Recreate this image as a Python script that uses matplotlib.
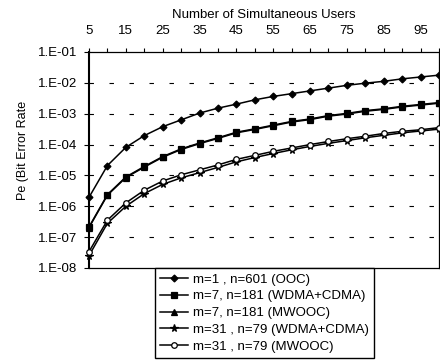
import numpy as np
import matplotlib
matplotlib.use('Agg')
import matplotlib.pyplot as plt
import matplotlib.ticker as ticker

plt.rcParams['font.family'] = ['Liberation Sans', 'DejaVu Sans']

# ── data (log10 of Pe) ─────────────────────────────────────────
users = [5, 10, 15, 20, 25, 30, 35, 40, 45, 50,
         55, 60, 65, 70, 75, 80, 85, 90, 95, 100]
log_ooc_m1 = [-5.71, -4.68, -4.09, -3.71, -3.42, -3.20, -2.98, -2.82, -2.69, -2.55,
              -2.44, -2.35, -2.26, -2.17, -2.08, -2.01, -1.95, -1.87, -1.81, -1.75]
log_wdma_m7 = [-6.67, -5.62, -5.05, -4.71, -4.39, -4.14, -3.95, -3.78, -3.60, -3.49,
               -3.37, -3.25, -3.17, -3.06, -2.99, -2.90, -2.84, -2.76, -2.70, -2.64]
log_mwooc_m7 = [-6.69, -5.64, -5.07, -4.73, -4.41, -4.16, -3.97, -3.80, -3.62, -3.51,
                -3.39, -3.27, -3.19, -3.08, -3.01, -2.92, -2.86, -2.78, -2.72, -2.66]
log_wdma_m31 = [-7.60, -6.55, -6.00, -5.59, -5.29, -5.08, -4.91, -4.74, -4.56, -4.42,
                -4.29, -4.17, -4.06, -3.96, -3.87, -3.78, -3.70, -3.62, -3.56, -3.50]
log_mwooc_m31 = [-7.47, -6.45, -5.89, -5.48, -5.18, -4.98, -4.82, -4.66, -4.48, -4.35,
                 -4.22, -4.11, -4.00, -3.90, -3.81, -3.73, -3.64, -3.57, -3.52, -3.45]

labels = ['m=1 , n=601 (OOC)',
          'm=7, n=181 (WDMA+CDMA)',
          'm=7, n=181 (MWOOC)',
          'm=31 , n=79 (WDMA+CDMA)',
          'm=31 , n=79 (MWOOC)']

x_major = [5, 15, 25, 35, 45, 55, 65, 75, 85, 95]
y_ticks = [1e-1, 1e-2, 1e-3, 1e-4, 1e-5, 1e-6, 1e-7, 1e-8]

# ── figure ─────────────────────────────────────────────────────
fig = plt.figure(figsize=(4.4, 3.62), dpi=100, facecolor='white')
ax = fig.add_axes([89 / 440, 1 - 268 / 362, 350 / 440, 216 / 362])

series = [
    (log_ooc_m1,   dict(marker='D', ms=3.5, mfc='black')),
    (log_wdma_m7,  dict(marker='s', ms=4.5, mfc='black')),
    (log_mwooc_m7, dict(marker='^', ms=4.5, mfc='black')),
    (log_wdma_m31, dict(marker='*', ms=5.5, mfc='black')),
    (log_mwooc_m31, dict(marker='o', ms=4.0, mfc='white')),
]
for (vals, st), lab in zip(series, labels):
    ax.plot(users, 10.0 ** np.array(vals), color='black', lw=1.1,
            mec='black', mew=0.9, label=lab, clip_on=False, zorder=3, **st)

ax.set_yscale('log')
ax.set_ylim(1e-8, 1e-1)
ax.set_xlim(5, 100)

# horizontal dashed grid at decades
for v in y_ticks[1:-1]:
    ax.axhline(v, color='black', lw=0.8, dashes=(4, 14), zorder=1)

# x axis on top
ax.xaxis.tick_top()
ax.xaxis.set_label_position('top')
ax.set_xticks(x_major)
ax.set_xticks(np.arange(10, 101, 10), minor=True)
ax.tick_params(axis='x', which='both', direction='out', length=3,
               width=0.8, pad=8, labelsize=9.5)
ax.set_xlabel('Number of Simultaneous Users', fontsize=9.5, labelpad=5)

ax.yaxis.set_minor_locator(ticker.NullLocator())
ax.set_yticks(y_ticks)
ax.yaxis.set_major_formatter(ticker.FuncFormatter(
    lambda v, _: f'1.E-{int(round(-np.log10(v))):02d}'))
ax.tick_params(axis='y', which='major', direction='out', length=3.6,
               width=0.8, pad=5, labelsize=9.5)
ax.set_ylabel('Pe (Bit Error Rate', fontsize=9)
ax.yaxis.set_label_coords(-0.172, 0.545)

ax.spines['left'].set_linewidth(1.5)
for s in ['top', 'right', 'bottom']:
    ax.spines[s].set_linewidth(0.9)

leg = fig.legend(loc='upper left', bbox_to_anchor=(155 / 440, 1 - 268 / 362),
                 fontsize=9.5, frameon=True, fancybox=False, edgecolor='black',
                 framealpha=1, handlelength=2.1, handletextpad=0.4,
                 labelspacing=0.35, borderpad=0.4, borderaxespad=0)
leg.get_frame().set_linewidth(1.0)

fig.savefig('out.png', dpi=100, facecolor='white')
